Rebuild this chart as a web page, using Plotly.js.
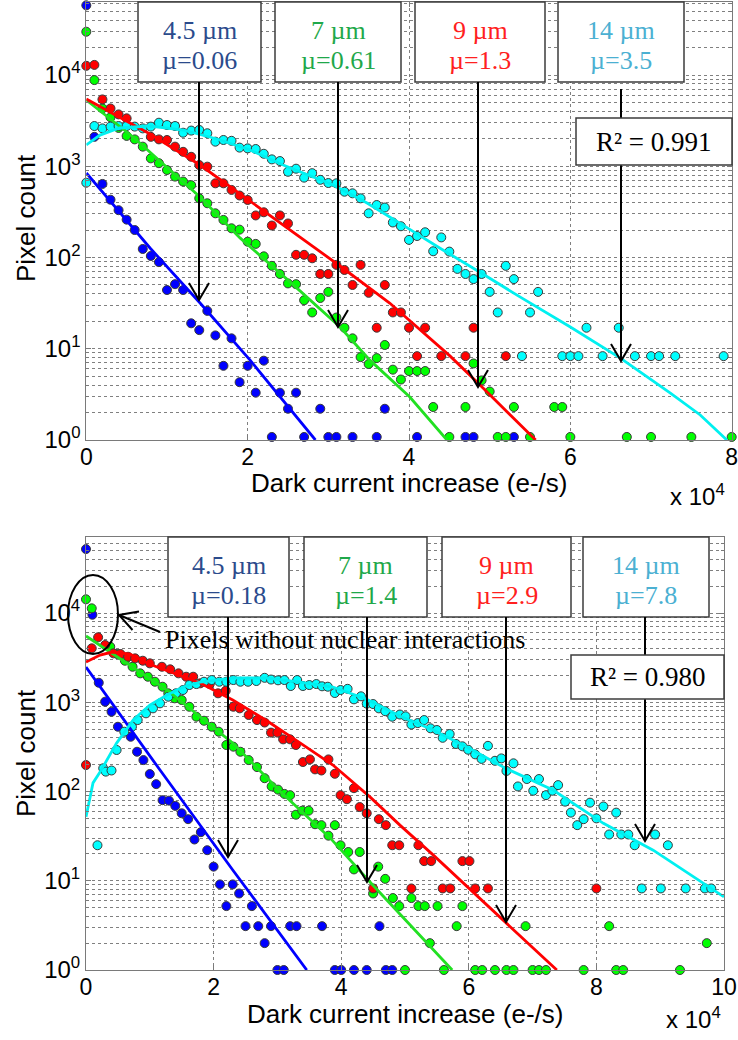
<!DOCTYPE html>
<html><head><meta charset="utf-8">
<script src="https://cdn.plot.ly/plotly-3.0.1.min.js"></script>
<style>html,body{margin:0;padding:0;background:#fff}#chart{width:738px;height:1040px}</style>
</head><body><div id="chart"></div>
<script>
// ===== DATA (x in units of 10^4 e-/s, y = pixel count) =====
// Top panel
const topBlueX = [0,0.1,0.2,0.3,0.4,0.5,0.6,0.7,0.8,0.9,1.0,1.1,1.2,1.3,1.4,1.5,1.6,1.7,1.8,1.9,2.0,2.1,2.2,2.3,2.4,2.5,2.6,2.7,2.9,3.0,3.1,3.3,3.6,3.7,4.1,4.7,4.8,5.3];
const topBlueY = [58000,2100,640,430,330,260,200,124,104,89,44,51,44,19,16,26,14,6.5,13,4.3,6.5,3.3,7.4,1.08,3.3,2.2,3.3,1.08,2.2,1.08,1.08,1.08,1.08,2.2,1.08,1.08,1.08,1.08];
const topGreenX = [0,0.1,0.2,0.3,0.4,0.5,0.6,0.7,0.8,0.9,1.0,1.1,1.2,1.3,1.4,1.5,1.6,1.7,1.8,1.9,2.0,2.1,2.2,2.3,2.4,2.5,2.6,2.7,2.8,2.9,3.0,3.1,3.2,3.3,3.4,3.5,3.6,3.7,3.8,3.9,4.0,4.1,4.2,4.3,4.5,4.7,4.8,4.9,5.0,5.1,5.2,5.3,5.5,5.8,5.9,6.0,6.7,7.0,7.5,8.0];
const topGreenY = [29800,8800,4300,3440,2630,2150,1970,1640,1220,1080,910,770,680,620,445,393,305,258,209,202,149,141,103,81,66,52,51,34,25,36,42,22,17,13,8.1,6.8,7.9,11,5.9,4.6,5.7,5.7,5.7,2.3,1.08,2.3,6.9,4.5,3.4,1.08,1.08,2.3,1.08,2.3,2.3,1.08,1.08,1.08,1.08,1.08];
const topRedX = [0,0.1,0.2,0.3,0.4,0.5,0.8,0.9,1.0,1.1,1.2,1.3,1.4,1.5,1.6,1.7,1.8,1.9,2.0,2.1,2.2,2.3,2.4,2.5,2.6,2.7,2.8,2.9,3.0,3.1,3.2,3.3,3.4,3.5,3.6,3.7,3.8,3.9,4.0,4.1,4.2,4.4,4.7,4.8,5.2];
const topRedY = [12600,12900,5400,4300,3700,3350,2100,1970,1940,1640,1440,1270,1030,990,650,650,550,478,427,289,313,224,289,236,107,107,98,66,66,83,73,50,83,41,17,50,25,25,17,8.3,17,8.3,8.3,17,8.3];
const topCyanX = [0,0.1,0.2,0.3,0.4,0.5,0.6,0.7,0.8,0.9,1.0,1.1,1.2,1.3,1.4,1.5,1.6,1.7,1.8,1.9,2.0,2.1,2.2,2.3,2.4,2.5,2.6,2.7,2.8,2.9,3.0,3.1,3.2,3.3,3.4,3.5,3.6,3.7,3.8,3.9,4.0,4.1,4.2,4.3,4.4,4.5,4.6,4.7,4.8,4.9,5.0,5.1,5.2,5.3,5.4,5.5,5.6,5.9,6.0,6.1,6.2,6.4,6.6,6.8,7.0,7.1,7.3,7.9];
const topCyanY = [660,2760,2600,2720,2760,2760,2720,2600,2720,3000,2830,2760,2330,2460,2500,2300,1860,1940,1900,1600,1570,1545,1370,1190,1140,870,940,750,840,710,655,650,526,505,445,305,376,353,242,220,156,172,189,117,166,116,75,66,58,66,42,25,81,58,8.3,25,42,8.3,8.3,8.3,17,8.3,17,8.3,8.3,8.3,8.3,8.3];
// Top fits
const topBlueFitX = [0,0.79,1.41,2.03,2.84];
const topBlueFitY = [844,127,31.7,7.5,1];
const topGreenFitX = [0,0.58,1.41,1.905,2.525,3.145,3.515,4.01,4.47];
const topGreenFitY = [5320,2093,460,164,54,17.3,7.5,2.96,1];
const topRedFitX = [0,0.79,1.41,1.905,2.525,3.145,3.76,4.51,4.88,5.57];
const topRedFitY = [5460,2256,1032,496,200,80.7,31.7,8.3,4.0,1];
const topCyanFitX = [0,0.17,0.41,0.79,1.2,1.62,2.03,2.44,3.06,3.48,3.98,4.38,4.88,5.375,6.0,6.62,7.24,7.61,7.94];
const topCyanFitY = [1710,2197,2625,2760,2495,1990,1507,1032,623,396,211,127,69,37,17.3,7.9,3.27,1.88,1];

// Bottom panel
const botBlueX = [0,0.1,0.2,0.3,0.4,0.5,0.7,0.8,0.9,1.0,1.1,1.2,1.3,1.4,1.5,1.6,1.7,1.8,1.9,2.0,2.1,2.2,2.3,2.4,2.5,2.6,2.7,2.8,2.9,3.0,3.1,3.2,3.3,3.7,3.9,4.0,4.2,4.4,4.6,4.7,4.8];
const botBlueY = [52100,9570,1656,1015,784,532,411,279,225,157,121,80,79,69,57,49,29,35,22,14.4,9.1,5.2,9.1,7.2,3.1,5.2,3.1,2,3.1,1,1,3.1,3.1,3.1,1,1,1,1,3.1,1,1];
const botGreenX = [0,0.09,0.38,0.49,0.61,0.73,0.85,0.97,1.08,1.20,1.29,1.39,1.50,1.62,1.73,1.85,1.97,2.08,2.20,2.31,2.42,2.55,2.68,2.80,2.91,3.01,3.11,3.20,3.29,3.39,3.49,3.59,3.69,3.80,3.90,3.99,4.11,4.20,4.29,4.50,4.58,4.69,4.81,4.91,5.00,5.10,5.21,5.31,5.39,5.51,5.61,5.81,5.90,6.10,6.21,6.41,6.59,6.70,6.89,7.00,7.10,7.21,7.80,8.20,8.31,8.42,9.31,9.73];
const botGreenY = [14250,11290,4190,3474,2922,2500,2109,1933,1699,1494,1260,1107,1060,891,689,621,532,468,332,318,279,225,188,141,114,105,94,91,55,61,61,43,42,32,42,25,21,13.4,21,7.2,14.4,10.5,6.4,5.2,1,6.4,5.2,5.2,2,5.2,1,3.1,5.2,1,1,1,1,1,3.1,1,1,1,1,3.1,1,1,1,2];
const botRedX = [0,0.09,0.19,0.30,0.43,0.54,0.66,0.77,0.89,1.00,1.19,1.32,1.45,1.57,1.68,1.79,1.94,2.07,2.19,2.31,2.41,2.55,2.68,2.80,2.90,3.00,3.09,3.20,3.29,3.40,3.51,3.59,3.69,3.80,3.90,3.99,4.09,4.20,4.29,4.40,4.50,4.59,4.70,4.80,4.91,5.10,5.21,5.30,5.41,5.59,5.71,5.90,6.01,6.10,6.30,8.00];
const botRedY = [198,4020,5345,4378,3532,3474,3237,3105,2922,2731,2500,2339,2109,1933,1933,1630,1600,1260,1347,891,855,720,632,593,457,457,384,384,332,214,229,177,172,229,158,91,82,109,67,57,8.2,49,42,25,25,8.2,25,16.6,16.6,8.2,8.2,16.6,16.6,8.2,8.2,8.2];
const botCyanX = [0.18,0.27,0.31,0.40,0.48,0.60,0.72,0.81,0.94,1.05,1.16,1.29,1.41,1.52,1.62,1.73,1.85,1.97,2.09,2.20,2.31,2.42,2.54,2.67,2.80,2.90,3.01,3.11,3.21,3.31,3.40,3.50,3.61,3.70,3.79,3.90,3.99,4.10,4.20,4.31,4.40,4.50,4.59,4.69,4.80,4.92,5.01,5.10,5.20,5.30,5.40,5.50,5.59,5.70,5.80,5.90,5.99,6.10,6.20,6.30,6.41,6.51,6.59,6.70,6.77,6.91,7.01,7.10,7.21,7.31,7.40,7.51,7.60,7.70,7.80,7.90,8.00,8.11,8.20,8.31,8.39,8.50,8.60,8.71,8.92,9.01,9.12,9.40,9.70,9.80];
const botCyanY = [25,182,167,172,292,468,532,632,752,855,973,1154,1260,1372,1560,1600,1699,1775,1699,1699,1775,1699,1699,1730,1880,1798,1762,1775,1521,1775,1521,1560,1600,1510,1494,1270,1372,1415,1079,1166,966,955,855,794,689,729,696,563,585,632,511,489,400,441,341,321,294,261,232,325,221,235,170,207,114,138,102,138,91,102,118,77,58,42,49,75,50,68,33,58,33,33,25,8.2,33,8.2,25,8.2,8.2,8.2];
// Bottom fits
const botBlueFitX = [0,1.16,2.30,3.46];
const botBlueFitY = [2483,174,13.2,1];
const botGreenFitX = [0,1.27,2.30,3.07,3.83,4.48,5.74];
const botGreenFitY = [5525,1372,349,96,30,9.2,1];
const botRedFitX = [0,0.22,0.41,0.69,1.0,1.79,2.30,2.84,3.36,3.87,4.45,4.92,5.44,6.02,6.64,7.38];
const botRedFitY = [2825,3384,3656,3474,2670,1643,1060,617,349,198,87,42,19.5,8.1,3.1,1];
const botCyanFitX = [0,0.11,0.22,0.48,0.74,1.0,1.27,1.52,1.79,2.30,2.84,3.35,3.87,4.39,4.92,5.44,5.97,6.57,7.32,8.11,8.89,10.0];
const botCyanFitY = [52,125,165,349,632,931,1206,1483,1686,1870,1870,1686,1483,1087,702,489,316,183,104,44,22,6.6];

// Labels
const topXTicks = [0,2,4,6,8];
const botXTicks = [0,2,4,6,8,10];
const yTickVals = [1,10,100,1000,10000];
const yTickText = ['10<sup>0</sup>','10<sup>1</sup>','10<sup>2</sup>','10<sup>3</sup>','10<sup>4</sup>'];
const sizeLabels = ['4.5 µm','7 µm','9 µm','14 µm'];
const topMu = ['µ=0.06','µ=0.61','µ=1.3','µ=3.5'];
const botMu = ['µ=0.18','µ=1.4','µ=2.9','µ=7.8'];
const topR2 = 'R² = 0.991';
const botR2 = 'R² = 0.980';
const noteText = 'Pixels without nuclear interactions';
const xTitle = 'Dark current increase (e-/s)';
const yTitle = 'Pixel count';

// ===== STYLE =====
const W = 738, H = 1040;
const PX = v => v / W, PY = v => 1 - v / H;
const SANS = 'Liberation Sans, Arial, sans-serif';
const SERIF = 'Liberation Serif, Times New Roman, serif';
const markerCol = {blue:'#0000ff', green:'#00ff00', red:'#ff0000', cyan:'#00ffff'};
const lineCol = {blue:'#0000ff', green:'#22e022', red:'#ff0000', cyan:'#00f0f0'};
const textCol = ['#2b4b8c','#1fa84a','#ff2020','#4bb0d2'];

const minorVals = [];
for (let d = 0; d < 5; d++) for (let m = 2; m <= 9; m++) minorVals.push(m * Math.pow(10, d));

function pts(x, y, c, xa, ya) {
  return {x, y, xaxis: xa, yaxis: ya, type: 'scatter', mode: 'markers', cliponaxis: false, hoverinfo: 'skip',
    marker: {color: markerCol[c], size: 9, line: {color: '#3a3a3a', width: 1}}};
}
function fit(x, y, c, xa, ya) {
  return {x, y, xaxis: xa, yaxis: ya, type: 'scatter', mode: 'lines', hoverinfo: 'skip',
    line: {color: lineCol[c], width: 2.8}};
}

const traces = [
  pts(topBlueX, topBlueY, 'blue', 'x', 'y'),
  pts(topGreenX, topGreenY, 'green', 'x', 'y'),
  pts(topRedX, topRedY, 'red', 'x', 'y'),
  pts(topCyanX, topCyanY, 'cyan', 'x', 'y'),
  fit(topBlueFitX, topBlueFitY, 'blue', 'x', 'y'),
  fit(topGreenFitX, topGreenFitY, 'green', 'x', 'y'),
  fit(topRedFitX, topRedFitY, 'red', 'x', 'y'),
  fit(topCyanFitX, topCyanFitY, 'cyan', 'x', 'y'),
  pts(botBlueX, botBlueY, 'blue', 'x2', 'y2'),
  pts(botGreenX, botGreenY, 'green', 'x2', 'y2'),
  pts(botRedX, botRedY, 'red', 'x2', 'y2'),
  pts(botCyanX, botCyanY, 'cyan', 'x2', 'y2'),
  fit(botBlueFitX, botBlueFitY, 'blue', 'x2', 'y2'),
  fit(botGreenFitX, botGreenFitY, 'green', 'x2', 'y2'),
  fit(botRedFitX, botRedFitY, 'red', 'x2', 'y2'),
  fit(botCyanFitX, botCyanFitY, 'cyan', 'x2', 'y2')
];

const gridStyle = {showgrid: true, gridcolor: '#808080', griddash: 'dot', gridwidth: 1};
function xAxis(dom, max, ticks, anchor) {
  return Object.assign({domain: dom, range: [0, max], tickmode: 'array', tickvals: ticks, ticktext: ticks.map(String),
    zeroline: false, showline: true, linecolor: '#7a7a7a', linewidth: 1, mirror: 'allticks',
    ticks: 'inside', ticklen: 5, tickcolor: '#7a7a7a', anchor, ticklabelstandoff: -4, ticklabeloverflow: 'allow',
    tickfont: {family: SANS, size: 23, color: '#000'}}, gridStyle);
}
function yAxis(dom, top, anchor) {
  return Object.assign({type: 'log', domain: dom, range: [0, top], tickmode: 'array', tickvals: yTickVals, ticktext: yTickText,
    zeroline: false, showline: true, linecolor: '#7a7a7a', linewidth: 1, mirror: 'allticks',
    ticks: 'inside', ticklen: 5, tickcolor: '#7a7a7a', anchor, ticklabeloverflow: 'allow',
    tickfont: {family: SANS, size: 24, color: '#000'},
    minor: {tickmode: 'array', tickvals: minorVals, showgrid: true, gridcolor: '#808080', griddash: 'dot', gridwidth: 1,
      ticks: 'inside', ticklen: 3, tickcolor: '#7a7a7a'}}, gridStyle);
}

const shapes = [], annotations = [];
function box(x0, x1, y0, y1) {
  shapes.push({type: 'rect', xref: 'paper', yref: 'paper', x0: PX(x0), x1: PX(x1), y0: PY(y1), y1: PY(y0),
    line: {color: '#3c3c3c', width: 1.5}, fillcolor: '#ffffff', layer: 'above'});
}
function vline(x, y0, y1) {
  shapes.push({type: 'line', xref: 'paper', yref: 'paper', x0: PX(x), x1: PX(x), y0: PY(y0), y1: PY(y1),
    line: {color: '#000', width: 2}, layer: 'above'});
}
function vhead(x, y) {
  shapes.push({type: 'path', xref: 'paper', yref: 'paper', layer: 'above', line: {color: '#000', width: 2},
    path: `M ${PX(x - 10)},${PY(y - 17)} L ${PX(x)},${PY(y)} L ${PX(x + 10)},${PY(y - 17)}`});
}
function txt(t, x, y, font, color, size, extra) {
  annotations.push(Object.assign({text: t, xref: 'paper', yref: 'paper', x: PX(x), y: PY(y), showarrow: false,
    xanchor: 'center', yanchor: 'middle', font: {family: font, size: size, color: color}}, extra || {}));
}

// top panel boxes
const topBoxes = [[138, 261, 199, 300], [275, 401, 338, 327], [415, 545, 478, 387], [558, 684, 621, 361]];
topBoxes.forEach((b, i) => {
  box(b[0], b[1], 2, 82);
  txt(sizeLabels[i], (b[0] + b[1]) / 2, 30, SERIF, textCol[i], 26);
  txt(topMu[i], (b[0] + b[1]) / 2, 60, SERIF, textCol[i], 26);
  if (i < 3) vline(b[2], 82, b[3]);
  vhead(b[2], b[3]);
});
vline(621, 89, 118); vline(621, 165, 361);
box(576, 732, 118, 165);
txt(topR2, 654, 142, SERIF, '#000', 27);

// bottom panel boxes
const botBoxes = [[168, 289, 228, 857], [304, 427, 367, 882], [442, 571, 506, 922], [583, 709, 645, 841]];
botBoxes.forEach((b, i) => {
  box(b[0], b[1], 537, 617);
  txt(sizeLabels[i], (b[0] + b[1]) / 2, 565, SERIF, textCol[i], 26);
  txt(botMu[i], (b[0] + b[1]) / 2, 595, SERIF, textCol[i], 26);
  if (i < 3) vline(b[2], 617, b[3]);
  vhead(b[2], b[3]);
});
vline(645, 617, 655); vline(645, 699, 841);
box(571, 724, 655, 699);
txt(botR2, 647.5, 677, SERIF, '#000', 27);

// ellipse + note arrow
shapes.push({type: 'circle', xref: 'paper', yref: 'paper', x0: PX(68), x1: PX(118), y0: PY(654), y1: PY(575),
  line: {color: '#000', width: 2}, layer: 'above'});
shapes.push({type: 'path', xref: 'paper', yref: 'paper', layer: 'above', line: {color: '#000', width: 2},
  path: `M ${PX(160)},${PY(632)} L ${PX(119)},${PY(615)}`});
shapes.push({type: 'path', xref: 'paper', yref: 'paper', layer: 'above', line: {color: '#000', width: 2},
  path: `M ${PX(139)},${PY(611.5)} L ${PX(119)},${PY(615)} L ${PX(132.5)},${PY(630)}`});
txt(noteText, 163, 639, SERIF, '#000', 26, {xanchor: 'left'});

// axis titles and multipliers
txt(xTitle, 409, 483, SANS, '#000', 26);
txt(xTitle, 405, 1014, SANS, '#000', 26);
txt(yTitle, 26, 218, SANS, '#000', 26, {textangle: -90});
txt(yTitle, 26, 753, SANS, '#000', 26, {textangle: -90});
txt('x 10<sup>4</sup>', 697, 495, SANS, '#000', 24);
txt('x 10<sup>4</sup>', 693, 1018, SANS, '#000', 24);

const layout = {
  width: W, height: H, margin: {l: 0, r: 0, t: 0, b: 0}, paper_bgcolor: '#fff', plot_bgcolor: '#fff',
  showlegend: false, hovermode: false,
  xaxis: xAxis([PX(86.3), PX(731.7)], 8, topXTicks, 'y'),
  yaxis: yAxis([PY(440), PY(2)], 4.8, 'x'),
  xaxis2: xAxis([PX(86), PX(724)], 10, botXTicks, 'y2'),
  yaxis2: yAxis([PY(970), PY(537)], 4.852, 'x2'),
  shapes, annotations
};
Plotly.newPlot('chart', traces, layout, {staticPlot: true, displayModeBar: false});
</script></body></html>
